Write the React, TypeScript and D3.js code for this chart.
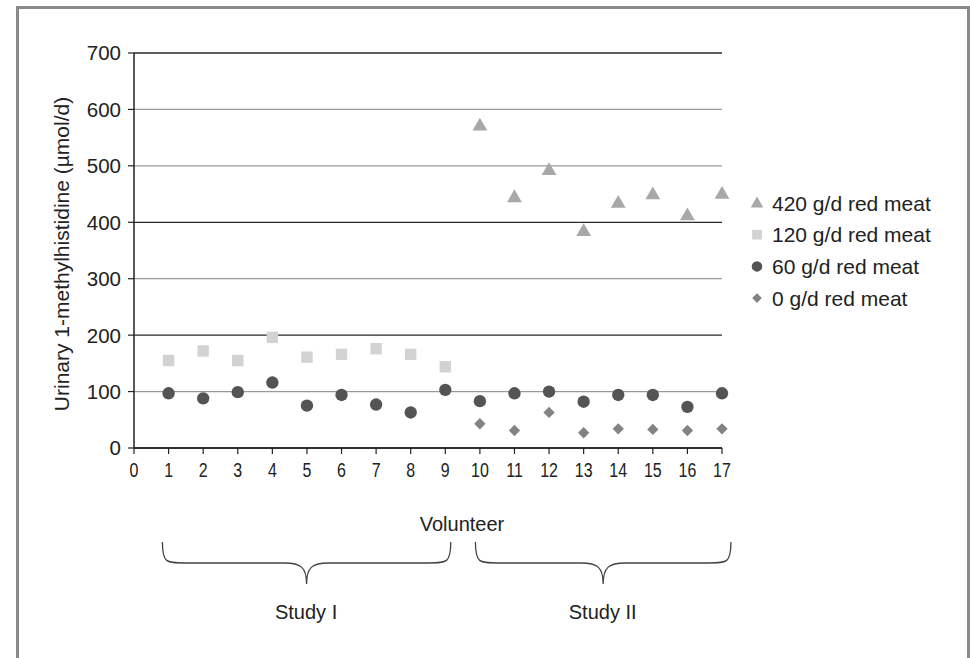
import React from "react";
import * as d3 from "d3";

const volunteers = d3.range(1, 18);
const meat420 = [null, null, null, null, null, null, null, null, null, 572, 445, 493, 385, 435, 450, 413, 451];
const meat120 = [155, 172, 155, 196, 161, 166, 176, 166, 144, null, null, null, null, null, null, null, null];
const meat60 = [97, 88, 99, 116, 75, 94, 77, 63, 103, 83, 97, 100, 82, 94, 94, 73, 97];
const meat0 = [null, null, null, null, null, null, null, null, null, 43, 31, 63, 27, 34, 33, 31, 34];
const yTicks = [0, 100, 200, 300, 400, 500, 600, 700];
const darkGrid = [0, 200, 400, 700];
const xTicks = d3.range(0, 18);
const legendLabels = ["420 g/d red meat", "120 g/d red meat", "60 g/d red meat", "0 g/d red meat"];
const studies = [
  { label: "Study I", from: 0.85, to: 9.1 },
  { label: "Study II", from: 9.9, to: 17.2 },
];

const FONT = "'Liberation Sans', Arial, sans-serif";

export default function App() {
  const x = d3.scaleLinear().domain([0, 17]).range([134, 722]);
  const y = d3.scaleLinear().domain([0, 700]).range([448, 53]);

  const tri = d3.symbol().type(d3.symbolTriangle).size(95)()!;
  const sq = d3.symbol().type(d3.symbolSquare).size(130)()!;
  const circ = d3.symbol().type(d3.symbolCircle).size(120)()!;
  const dia = d3.symbol().type(d3.symbolSquare).size(64)()!;

  const series = [
    { data: meat420, path: tri, fill: "#a8a8a8", dy: 1, rot: 0 },
    { data: meat120, path: sq, fill: "#d2d2d2", dy: 0, rot: 0 },
    { data: meat60, path: circ, fill: "#545454", dy: 0, rot: 0 },
    { data: meat0, path: dia, fill: "#838383", dy: 0, rot: 45 },
  ];

  const brace = (x0: number, x1: number) => {
    const top = 542, mid = 563, tip = 584;
    const c = (x0 + x1) / 2;
    return `M${x0},${top} C${x0},${mid} ${x0 + 4},${mid} ${x0 + 22},${mid} L${c - 22},${mid} C${c - 6},${mid} ${c},${mid + 4} ${c},${tip} C${c},${mid + 4} ${c + 6},${mid} ${c + 22},${mid} L${x1 - 22},${mid} C${x1 - 4},${mid} ${x1},${mid} ${x1},${top}`;
  };

  return (
    <svg width={970} height={658} style={{ position: "absolute", left: 0, top: 0 }} fontFamily={FONT}>
      <rect x={0} y={0} width={970} height={658} fill="#fff" />
      <path d="M17.5,700 L17.5,7.5 L968.5,7.5 L968.5,700" fill="none" stroke="#8a8a8a" strokeWidth={3} />
      {/* gridlines */}
      {yTicks.map((t) => (
        <line key={t} x1={134} x2={722} y1={y(t)} y2={y(t)} stroke={darkGrid.includes(t) ? "#2a2a2a" : "#9a9a9a"} strokeWidth={1.3} />
      ))}
      {/* y axis */}
      <line x1={134} x2={134} y1={y(700)} y2={y(0)} stroke="#222" strokeWidth={1.5} />
      {yTicks.map((t) => (
        <g key={t}>
          <line x1={128} x2={134} y1={y(t)} y2={y(t)} stroke="#222" strokeWidth={1.2} />
          <text x={121} y={y(t)} dy="0.36em" textAnchor="end" fontSize={20.5} fill="#222">{t}</text>
        </g>
      ))}
      {/* x axis */}
      <line x1={134} x2={722} y1={y(0)} y2={y(0)} stroke="#222" strokeWidth={1.5} />
      {xTicks.map((t) => (
        <g key={t}>
          <line x1={x(t)} x2={x(t)} y1={y(0)} y2={y(0) + 6} stroke="#222" strokeWidth={1.2} />
          <text transform={`translate(${x(t)},477) scale(0.78,1)`} textAnchor="middle" fontSize={20.5} fill="#222">{t}</text>
        </g>
      ))}
      {/* data */}
      {series.map((s, si) =>
        s.data.map((v, i) =>
          v == null ? null : (
            <path key={`${si}-${i}`} d={s.path} transform={`translate(${x(volunteers[i])},${y(v) + s.dy}) rotate(${s.rot})`} fill={s.fill} />
          )
        )
      )}
      {/* legend */}
      {series.map((s, i) => (
        <g key={i} transform={`translate(757,${203 + i * 31.7})`}>
          <path d={s.path} transform={`scale(0.85) translate(0,${s.dy}) rotate(${s.rot})`} fill={s.fill} />
          <text x={15} y={0} dy="0.36em" fontSize={21} fill="#222">{legendLabels[i]}</text>
        </g>
      ))}
      {/* axis titles */}
      <text transform="translate(69,254) rotate(-90)" textAnchor="middle" fontSize={21} fill="#222">Urinary 1-methylhistidine (µmol/d)</text>
      <text x={462} y={531} textAnchor="middle" fontSize={20} fill="#222">Volunteer</text>
      {/* braces */}
      {studies.map((s) => (
        <g key={s.label}>
          <path d={brace(x(s.from) - 1, x(s.to) + 2)} fill="none" stroke="#444" strokeWidth={1.3} />
          <text x={(x(s.from) + x(s.to)) / 2} y={619} textAnchor="middle" fontSize={20} fill="#222">{s.label}</text>
        </g>
      ))}
    </svg>
  );
}
